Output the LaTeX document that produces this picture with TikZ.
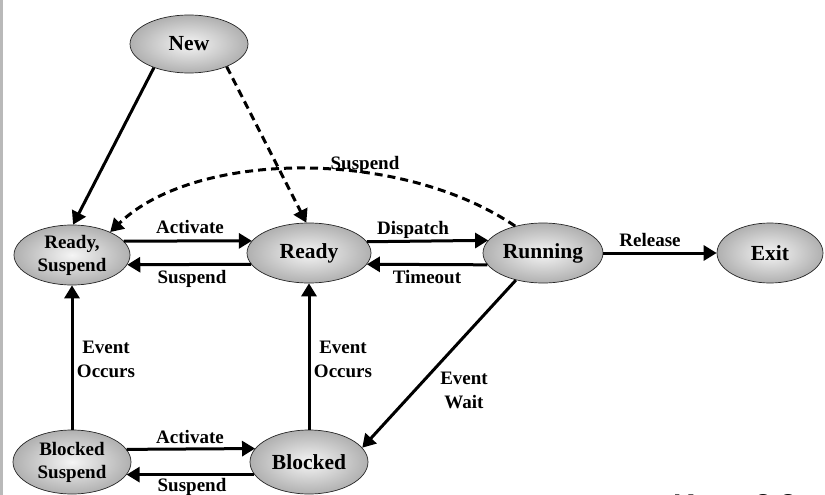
\documentclass[tikz,border=0pt]{standalone}
\usepackage{fontspec}
\setmainfont{Liberation Serif}
\newfontfamily\capfont{Liberation Sans}
\usetikzlibrary{shapes.geometric,arrows.meta}
\begin{document}
\begin{tikzpicture}[x=1pt,y=-1pt,
  state/.style={ellipse, draw=black!85, line width=0.7pt, shading=radial,
    inner color=gray!8, outer color=gray!62, inner sep=0pt,
    font=\bfseries\fontsize{21.5}{23}\selectfont, align=center},
  twoline/.style={font=\bfseries\fontsize{19}{23}\selectfont},
  arr/.style={line width=3pt, -{Triangle[length=13pt,width=15pt]}},
  darr/.style={arr, dash pattern=on 8pt off 5pt},
  lbl/.style={font=\bfseries\fontsize{19}{24}\selectfont, align=center, inner sep=0pt}
]
\useasboundingbox (0,0) rectangle (825,495);
\begin{scope}
\clip (0,0) rectangle (825,495);
\fill[gray!55] (0,0) rectangle (3,495);

% states
\node[state, minimum width=118pt, minimum height=58pt] (new) at (189,44) {New};
\node[state, twoline, minimum width=116pt, minimum height=60pt] (rs) at (72,255) {Ready,\\Suspend};
\node[state, minimum width=124pt, minimum height=60pt] (rd) at (309,253) {Ready};
\node[state, minimum width=120pt, minimum height=60pt] (run) at (543,253) {Running};
\node[state, minimum width=106pt, minimum height=60pt] (exit) at (770,253) {Exit};
\node[state, twoline, minimum width=118pt, minimum height=64pt] (bs) at (72,462) {Blocked\\Suspend};
\node[state, minimum width=118pt, minimum height=64pt] (bl) at (309,462) {Blocked};

% connectors
\draw[arr] (new.214) -- (rs.88);
\draw[darr] (new.-31) -- (rd.95);
\draw[darr] (run.136) .. controls (400,148) and (195,150) .. (rs.31);
\draw[arr] (rs.15.3) -- (rd.168.1);
\draw[arr] (rd.191.9) -- (rs.-10.4);
\draw[arr] (rd.11.9) -- (run.167.7);
\draw[arr] (run.192.3) -- (rd.-11.9);
\draw[arr] (run) -- (exit);
\draw[arr] (bs.north) -- (rs.south);
\draw[arr] (bl.north) -- (rd.south);
\draw[arr] (run.225) -- (bl.15);
\draw[arr] (bs.13.6) -- (bl.166.4);
\draw[arr] (bl.193.6) -- (bs.-13.6);

% labels
\node[lbl, anchor=base] (lsus1) at (365,169) {Suspend};
\node[lbl, anchor=base] (lact1) at (190,233) {Activate};
\node[lbl, anchor=base] (lsus2) at (192,283) {Suspend};
\node[lbl, anchor=base] (ldis) at (413,234) {Dispatch};
\node[lbl, anchor=base] (ltim) at (427,283) {Timeout};
\node[lbl, anchor=base] (lrel) at (650,246) {Release};
\node[lbl, anchor=base] (lev1) at (106,377) {Event\\Occurs};
\node[lbl, anchor=base] (lev2) at (343,377) {Event\\Occurs};
\node[lbl, anchor=base] (lew) at (464,408) {Event\\Wait};
\node[lbl, anchor=base] (lact2) at (190,443) {Activate};
\node[lbl, anchor=base] (lsus3) at (192,491) {Suspend};

% cut-off caption
\node[anchor=base west, inner sep=0pt, font=\capfont\bfseries\fontsize{30}{32}\selectfont] (cap) at (673,515) {Kuva 3.3};
\end{scope}
\end{tikzpicture}
\end{document}
